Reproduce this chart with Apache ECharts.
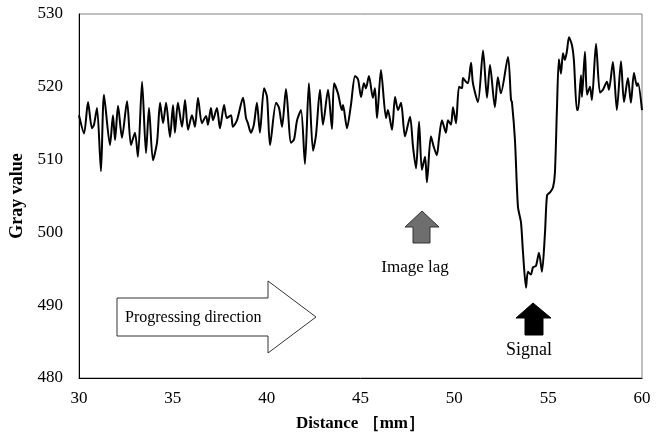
<!DOCTYPE html>
<html>
<head>
<meta charset="utf-8">
<script src="https://cdn.jsdelivr.net/npm/echarts@6/dist/echarts.min.js"></script>
<style>
  html, body { margin: 0; padding: 0; background: #fff; }
  #result { width: 664px; height: 434px; }
</style>
</head>
<body>
<div id="result"></div>
<script>
// 数据：距离 (mm) 与 灰度值
var distance = [
  30.00, 30.27, 30.48, 30.69, 30.80, 30.96, 31.17, 31.33, 31.65, 31.81,
  31.92, 32.08, 32.29, 32.56, 32.77, 32.98, 33.14, 33.36, 33.57, 33.73,
  33.94, 34.16, 34.32, 34.48, 34.64, 34.85, 35.01, 35.11, 35.27, 35.49,
  35.65, 35.81, 36.02, 36.18, 36.34, 36.55, 36.77, 36.87, 37.03, 37.14,
  37.35, 37.51, 37.73, 37.88, 38.10, 38.20, 38.42, 38.74, 38.90, 39.00,
  39.16, 39.32, 39.48, 39.64, 39.86, 40.02, 40.18, 40.50, 40.66, 40.82,
  41.03, 41.30, 41.46, 41.62, 41.83, 42.04, 42.25, 42.47, 42.63, 42.84,
  43.00, 43.27, 43.48, 43.59, 43.80, 44.01, 44.07, 44.28, 44.49, 44.71,
  44.87, 45.03, 45.18, 45.29, 45.45, 45.66, 45.77, 45.88, 46.09, 46.36,
  46.46, 46.68, 46.84, 47.00, 47.16, 47.37, 47.64, 47.80, 47.96, 48.12,
  48.27, 48.44, 48.54, 48.75, 48.91, 49.07, 49.18, 49.34, 49.55, 49.66,
  49.82, 49.93, 50.09, 50.25, 50.41, 50.46, 50.62, 50.73, 50.89, 50.99,
  51.26, 51.53, 51.74, 51.90, 52.16, 52.32, 52.48, 52.86, 53.02, 53.07,
  53.23, 53.39, 53.55, 53.66, 53.82, 53.92, 54.08, 54.19, 54.35, 54.51,
  54.67, 54.83, 54.94, 55.10, 55.26, 55.36, 55.47, 55.57, 55.68, 55.79,
  55.89, 56.00, 56.11, 56.27, 56.37, 56.53, 56.59, 56.75, 56.80, 56.96,
  57.07, 57.23, 57.33, 57.55, 57.76, 57.92, 58.13, 58.24, 58.45, 58.66,
  58.88, 59.04, 59.25, 59.41, 59.57, 59.73, 59.79, 60.00
];
var grayValue = [
  516.1, 513.6, 517.9, 514.3, 514.8, 517.1, 508.4, 518.9, 512.0, 516.1,
  512.7, 517.4, 513.0, 518.0, 512.0, 513.7, 510.4, 520.7, 510.9, 517.1,
  509.9, 512.4, 517.8, 515.0, 517.8, 513.1, 517.5, 513.7, 517.8, 514.5,
  518.2, 514.1, 516.1, 514.5, 518.5, 515.0, 516.0, 514.8, 517.1, 515.4,
  517.1, 514.3, 517.5, 515.7, 516.1, 514.5, 515.4, 518.5, 515.7, 515.0,
  513.7, 514.8, 517.8, 513.7, 519.8, 518.6, 512.0, 517.8, 517.1, 514.5,
  519.7, 512.3, 512.8, 515.4, 516.8, 509.4, 520.5, 511.2, 513.4, 519.6,
  514.8, 519.6, 514.2, 520.5, 519.1, 516.8, 517.5, 514.3, 517.5, 521.5,
  521.0, 518.6, 520.5, 519.8, 521.5, 518.5, 519.8, 515.7, 522.3, 515.7,
  516.8, 514.1, 518.6, 516.8, 517.8, 513.2, 515.9, 511.7, 508.8, 515.2,
  508.6, 510.4, 506.9, 513.2, 511.7, 510.6, 512.8, 515.4, 513.7, 515.4,
  514.8, 517.2, 515.0, 520.0, 519.8, 521.2, 520.7, 520.5, 523.3, 520.5,
  517.9, 525.0, 518.5, 523.0, 517.2, 521.3, 519.1, 524.1, 518.2, 517.9,
  512.7, 503.5, 501.4, 497.2, 492.4, 494.6, 494.2, 495.2, 495.4, 497.2,
  494.6, 499.9, 505.1, 505.5, 506.2, 508.2, 517.2, 523.8, 521.8, 524.6,
  523.7, 524.9, 526.8, 525.7, 523.7, 516.8, 516.8, 521.6, 518.6, 524.8,
  518.9, 520.0, 518.2, 525.9, 519.2, 519.6, 520.7, 519.6, 523.4, 516.8,
  523.5, 517.9, 521.2, 517.8, 521.9, 520.1, 520.5, 516.8
];
var seriesData = distance.map(function (d, i) { return [d, grayValue[i]]; });

var serif = '"Liberation Serif", "DejaVu Serif", serif';

var option = {
    animation: false,
    backgroundColor: '#fff',
    // ---- grid 区域 ----
    grid: {
        show: true,
        left: 79,
        right: 22,
        top: 14,
        bottom: 56,
        containLabel: false,
        outerBoundsMode: 'none',
        borderColor: '#808080',
        borderWidth: 1
    },
    //  ------  X轴 ------
    xAxis: {
        type: 'value',
        min: 30,
        max: 60,
        interval: 5,
        name: 'Distance ［mm］',
        nameLocation: 'middle',
        nameGap: 37,
        nameTextStyle: {
            color: '#000',
            fontFamily: serif,
            fontWeight: 'bold',
            fontSize: 17
        },
        axisLine: { show: true, lineStyle: { color: '#000', width: 1 } },
        axisTick: { show: false },
        axisLabel: {
            margin: 12,
            color: '#000',
            fontFamily: serif,
            fontSize: 17
        },
        splitLine: { show: false }
    },
    //   ------   y轴  ----------
    yAxis: {
        type: 'value',
        min: 480,
        max: 530,
        interval: 10,
        name: 'Gray value',
        nameLocation: 'middle',
        nameGap: 47,
        nameTextStyle: {
            color: '#000',
            fontFamily: serif,
            fontWeight: 'bold',
            fontSize: 18
        },
        axisLine: { show: true, lineStyle: { color: '#000', width: 1 } },
        axisTick: { show: false },
        axisLabel: {
            margin: 16,
            color: '#000',
            fontFamily: serif,
            fontSize: 17
        },
        splitLine: { show: false }
    },
    //  -------   内容数据 -------
    series: [
        {
            name: 'Gray value',
            type: 'line',
            data: seriesData,
            showSymbol: false,
            smooth: 0.25,
            lineStyle: { color: '#000', width: 2 }
        }
    ],
    // ---- 注释：箭头和文字 ----
    graphic: [
        {   // 进行方向大箭头
            type: 'polygon',
            shape: {
                points: [[117, 298], [268, 298], [268, 281], [316, 317],
                         [268, 353], [268, 336], [117, 336]]
            },
            style: { fill: '#fff', stroke: '#333', lineWidth: 1 }
        },
        {
            type: 'text',
            x: 125,
            y: 318,
            style: { text: 'Progressing direction', fill: '#000', font: '16px ' + serif, verticalAlign: 'middle' }
        },
        {   // Image lag 灰色箭头
            type: 'polygon',
            shape: {
                points: [[422, 211], [439, 227], [430, 227], [430, 243],
                         [413, 243], [413, 227], [405, 227]]
            },
            style: { fill: '#6e6e6e', stroke: '#333', lineWidth: 1 }
        },
        {
            type: 'text',
            x: 415,
            y: 268,
            style: { text: 'Image lag', fill: '#000', font: '17px ' + serif, align: 'center', verticalAlign: 'middle' }
        },
        {   // Signal 黑色箭头
            type: 'polygon',
            shape: {
                points: [[533, 303], [551, 318], [543, 318], [543, 335],
                         [525, 335], [525, 318], [516, 318]]
            },
            style: { fill: '#000', stroke: '#000', lineWidth: 1 }
        },
        {
            type: 'text',
            x: 529,
            y: 350,
            style: { text: 'Signal', fill: '#000', font: '18px ' + serif, align: 'center', verticalAlign: 'middle' }
        }
    ]
};
var myResult = echarts.init(document.getElementById('result'));
myResult.setOption(option);
</script>
</body>
</html>
